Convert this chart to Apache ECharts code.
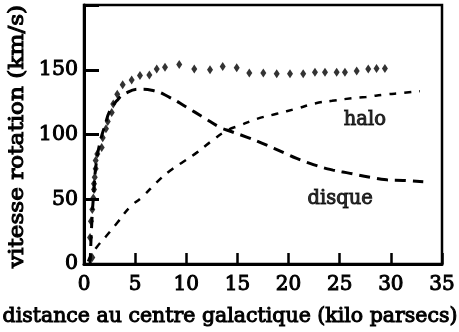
<!DOCTYPE html>
<html>
<head>
<meta charset="utf-8">
<script src="https://cdn.jsdelivr.net/npm/echarts@6/dist/echarts.min.js"></script>
<style>
  html, body { margin: 0; padding: 0; background: #fff; }
  #chart { width: 459px; height: 332px; }
</style>
</head>
<body>
<div id="chart"></div>
<script>
// Observed rotation curve: [distance (kpc), velocity (km/s)]
const observed = [
  [0.81, 5], [0.59, 20.5], [0.68, 33], [0.81, 42], [0.91, 51], [0.98, 57.5],
  [0.98, 62], [1.05, 67], [1.14, 73.5], [1.14, 80], [1.3, 85], [1.73, 90],
  [1.83, 97.5], [2.15, 104.5], [2.32, 110], [2.71, 117], [2.86, 123.5],
  [3.25, 131], [3.78, 138.5], [4.66, 142], [5.47, 145.5], [6.39, 146],
  [7.11, 150.5], [7.92, 152], [9.31, 154], [10.78, 150.5], [12.32, 150],
  [13.56, 152.5], [14.93, 151.5], [16.16, 147.5], [17.53, 147.5],
  [18.84, 147], [20.14, 147], [21.43, 147], [22.58, 148], [23.56, 148],
  [24.7, 148], [25.51, 148], [26.66, 149], [27.79, 150.5], [28.6, 151],
  [29.42, 151]
];

// Disk contribution
const disque = [
  [0.6, 0], [0.75, 30], [0.95, 55], [1.2, 78], [1.6, 95], [2.05, 107],
  [2.54, 118.5], [3.2, 126], [4.0, 131.5], [5.47, 135], [6.74, 134],
  [8.41, 128.5], [10.04, 121], [11.63, 113.5], [13.29, 105.5], [13.95, 103.5],
  [15.9, 98], [17.5, 93], [19.65, 85.5], [20.79, 81.5], [22.75, 76],
  [24.34, 72.5], [26, 70], [27.96, 67], [29.6, 65], [31.2, 64.5], [33.17, 63.5]
];

// Dark halo contribution
const halo = [
  [0.4, 2], [0.6, 5.6], [1.24, 13], [2.22, 22], [3.27, 32], [4.5, 44],
  [5.72, 52], [7.1, 63], [8.41, 72], [9.71, 79], [11.02, 86], [12.32, 94],
  [13.95, 103], [15.25, 107], [16.88, 112], [18.84, 116], [20.79, 120],
  [22.58, 124], [24.24, 126], [26.2, 128], [27.57, 129], [29.52, 131],
  [31.09, 132], [32.84, 133.5]
];

const xTicks = [0, 5, 10, 15, 20, 25, 30, 35];
const yTicks = [0, 50, 100, 150];
const X_MAX = 35;

const xTitle = 'distance au centre galactique (kilo parsecs)';
const yTitle = 'vitesse rotation (km/s)';
const curveLabels = [
  { text: 'halo', at: [27.5, 110.5] },
  { text: 'disque', at: [25.1, 50] }
];

const FONT = 'DejaVu Serif';
// thin outline in the text colour gives the type a heavier, printed look
const heavy = { textBorderColor: '#000', textBorderWidth: 1 };
const X_LABEL_SIZE = 20;
const X_LABEL_MARGIN = 11;

const chart = echarts.init(document.getElementById('chart'), null, { renderer: 'canvas' });

chart.setOption({
  animation: false,
  backgroundColor: '#fff',
  grid: {
    left: 84, right: 17, top: 5, bottom: 68,
    outerBoundsMode: 'none', containLabel: false,
    show: true, borderColor: '#000', borderWidth: 2.5, backgroundColor: 'transparent'
  },
  graphic: [
    {
      id: 'yTitle', type: 'text', x: 17.5, y: 136.5, rotation: Math.PI / 2, scaleX: 1.13, silent: true,
      style: {
        text: yTitle, font: '20.5px "DejaVu Serif"', fill: '#000',
        align: 'center', verticalAlign: 'middle', stroke: '#000', lineWidth: 1
      }
    }
  ],
  xAxis: {
    type: 'value', min: 0, max: X_MAX, interval: 5,
    name: xTitle, nameLocation: 'middle', nameGap: 42,
    nameTextStyle: Object.assign({
      fontFamily: FONT, fontSize: 20.5, color: '#000',
      // extra right padding shifts the centred title towards the left edge
      padding: [0, 66, 0, 0]
    }, heavy),
    axisLine: { show: true, lineStyle: { color: '#000', width: 3 } },
    axisTick: { show: true, inside: true, length: 11, lineStyle: { color: '#000', width: 2.5 } },
    axisLabel: Object.assign({
      fontFamily: FONT, fontSize: X_LABEL_SIZE, color: '#000', margin: X_LABEL_MARGIN,
      // the end label is placed separately below so it is never dropped at the edge
      formatter: v => (v !== X_MAX && xTicks.includes(v) ? String(v) : '')
    }, heavy),
    splitLine: { show: false }
  },
  yAxis: {
    type: 'value', min: 0, max: 200, interval: 50,
    axisLine: { show: true, lineStyle: { color: '#000', width: 3 } },
    axisTick: { show: true, inside: true, length: 15, lineStyle: { color: '#000', width: 3 } },
    axisLabel: Object.assign({
      fontFamily: FONT, fontSize: 20.5, color: '#000', margin: 6,
      formatter: v => (yTicks.includes(v) ? String(v) : '')
    }, heavy),
    splitLine: { show: false }
  },
  series: [
    {
      name: 'disque', type: 'line', data: disque, smooth: true, showSymbol: false,
      lineStyle: { color: '#000', width: 3, type: [11, 7] },
      z: 2
    },
    {
      name: 'halo', type: 'line', data: halo, smooth: true, showSymbol: false,
      lineStyle: { color: '#000', width: 2.5, type: [7, 8] },
      z: 2
    },
    {
      name: 'observé', type: 'scatter', data: observed,
      symbol: 'diamond', symbolSize: [6, 9],
      itemStyle: { color: '#000' },
      z: 3
    },
    {
      name: 'labels', type: 'scatter', symbolSize: 1, silent: true,
      data: curveLabels.map(l => ({ value: l.at, name: l.text })),
      itemStyle: { color: 'transparent' },
      label: Object.assign({
        show: true, position: [0, 0], align: 'center', verticalAlign: 'middle',
        formatter: p => p.name,
        fontFamily: FONT, fontSize: 19.5, color: '#000'
      }, heavy),
      z: 4
    }
  ]
});

// Last x tick label, anchored to the axis scale at its value
const endPos = chart.convertToPixel({ gridIndex: 0 }, [X_MAX, 0]);
chart.setOption({
  graphic: [
    {
      id: 'xEndLabel', type: 'text', silent: true,
      x: endPos[0], y: endPos[1] + X_LABEL_MARGIN,
      style: {
        text: String(X_MAX), font: X_LABEL_SIZE + 'px "DejaVu Serif"', fill: '#000',
        align: 'center', verticalAlign: 'top', stroke: '#000', lineWidth: 1
      }
    }
  ]
});
</script>
</body>
</html>
